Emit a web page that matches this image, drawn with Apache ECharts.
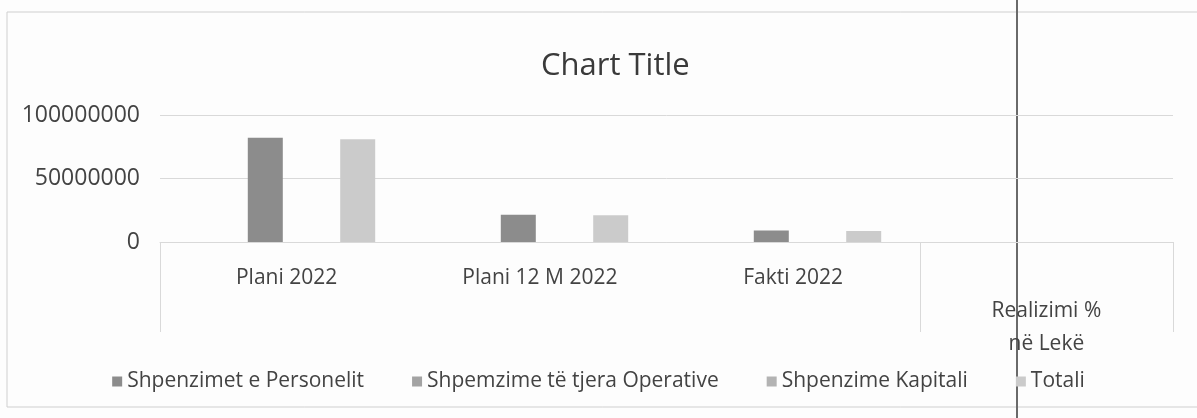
<!DOCTYPE html>
<html lang="sq">
<head>
    <meta charset="utf-8">
    <title>Chart Title</title>
    <script src="https://cdn.jsdelivr.net/npm/echarts@6/dist/echarts.min.js"></script>
    <style>
        html, body { margin: 0; padding: 0; background: #fdfdfd; }
        #main { width: 1197px; height: 418px; }
    </style>
</head>
<body>
    <div id="main"></div>
    <script type="text/javascript">
        // kategorite dhe vlerat (lexuar nga grafiku)
        var categories = ['Plani 2022', 'Plani 12 M 2022', 'Fakti 2022', 'Realizimi %\nnë Lekë'];
        var personeli = [82000000, 21500000, 9000000, 0];
        var operative = [0, 0, 0, 0];
        var kapitali = [0, 0, 0, 0];
        var totali = [81000000, 21000000, 8700000, 0];
        var yTicks = [0, 50000000, 100000000];

        var fontFam = '"Open Sans", "Noto Sans", sans-serif';
        var gridColor = '#d9d9d9';
        var textColor = '#434343';

        var myChart = echarts.init(document.getElementById('main'));

        function barSeries(name, data, color) {
            return {
                name: name,
                type: 'bar',
                xAxisIndex: 1,
                yAxisIndex: 1,
                barWidth: 35,
                barGap: '-12%',
                itemStyle: { color: color },
                data: data
            };
        }

        myChart.setOption({
            backgroundColor: '#fdfdfd',
            title: {
                text: 'Chart Title',
                left: 536,
                top: 46,
                textStyle: { fontFamily: fontFam, fontSize: 31, fontWeight: 'normal', color: '#3a3a3a' }
            },
            legend: {
                bottom: 21,
                left: 'center',
                itemWidth: 10,
                itemHeight: 10,
                itemGap: 48,
                icon: 'rect',
                textStyle: { fontFamily: fontFam, fontSize: 21, color: textColor },
                data: ['Shpenzimet e Personelit', 'Shpemzime të tjera Operative', 'Shpenzime Kapitali', 'Totali']
            },
            grid: [
                { left: 160, width: 1013, top: 115, bottom: 176 },   // boshtet
                { left: 185, width: 1013, top: 115, bottom: 176 }    // shtyllat
            ],
            xAxis: [{
                type: 'category',
                gridIndex: 0,
                data: categories,
                axisLine: { lineStyle: { color: gridColor } },
                axisTick: {
                    show: true,
                    length: 90,
                    lineStyle: { color: gridColor },
                    interval: function (idx) { return idx === 0 || idx === 3; }
                },
                axisLabel: {
                    margin: 20,
                    interval: 0,
                    fontFamily: fontFam,
                    fontSize: 21,
                    lineHeight: 33,
                    color: textColor,
                    formatter: function (v) { return v.indexOf('\n') >= 0 ? '\n' + v : v; }
                }
            }, {
                type: 'category',
                gridIndex: 1,
                data: categories,
                show: false
            }],
            yAxis: [{
                type: 'value',
                gridIndex: 0,
                min: yTicks[0],
                max: yTicks[yTicks.length - 1],
                interval: yTicks[1] - yTicks[0],
                axisLine: { show: false },
                axisTick: { show: false },
                splitLine: { lineStyle: { color: gridColor } },
                axisLabel: {
                    margin: 20,
                    fontFamily: fontFam,
                    fontSize: 23,
                    color: textColor,
                    formatter: function (v) { return String(v); }
                }
            }, {
                type: 'value',
                gridIndex: 1,
                min: yTicks[0],
                max: yTicks[yTicks.length - 1],
                show: false,
                splitLine: { show: false }
            }],
            series: [
                barSeries('Shpenzimet e Personelit', personeli, '#8c8c8c'),
                barSeries('Shpemzime të tjera Operative', operative, '#a3a3a3'),
                barSeries('Shpenzime Kapitali', kapitali, '#b3b3b3'),
                barSeries('Totali', totali, '#cbcbcb')
            ],
            graphic: [{
                type: 'rect',
                shape: { x: 7, y: 12, width: 1200, height: 395 },
                style: { fill: null, stroke: '#cfcfcf', lineWidth: 1 },
                silent: true
            }, {
                type: 'line',
                shape: { x1: 1017, y1: 0, x2: 1017, y2: 418 },
                style: { stroke: '#6a6a6a', lineWidth: 2 },
                silent: true
            }]
        });
    </script>
</body>
</html>
